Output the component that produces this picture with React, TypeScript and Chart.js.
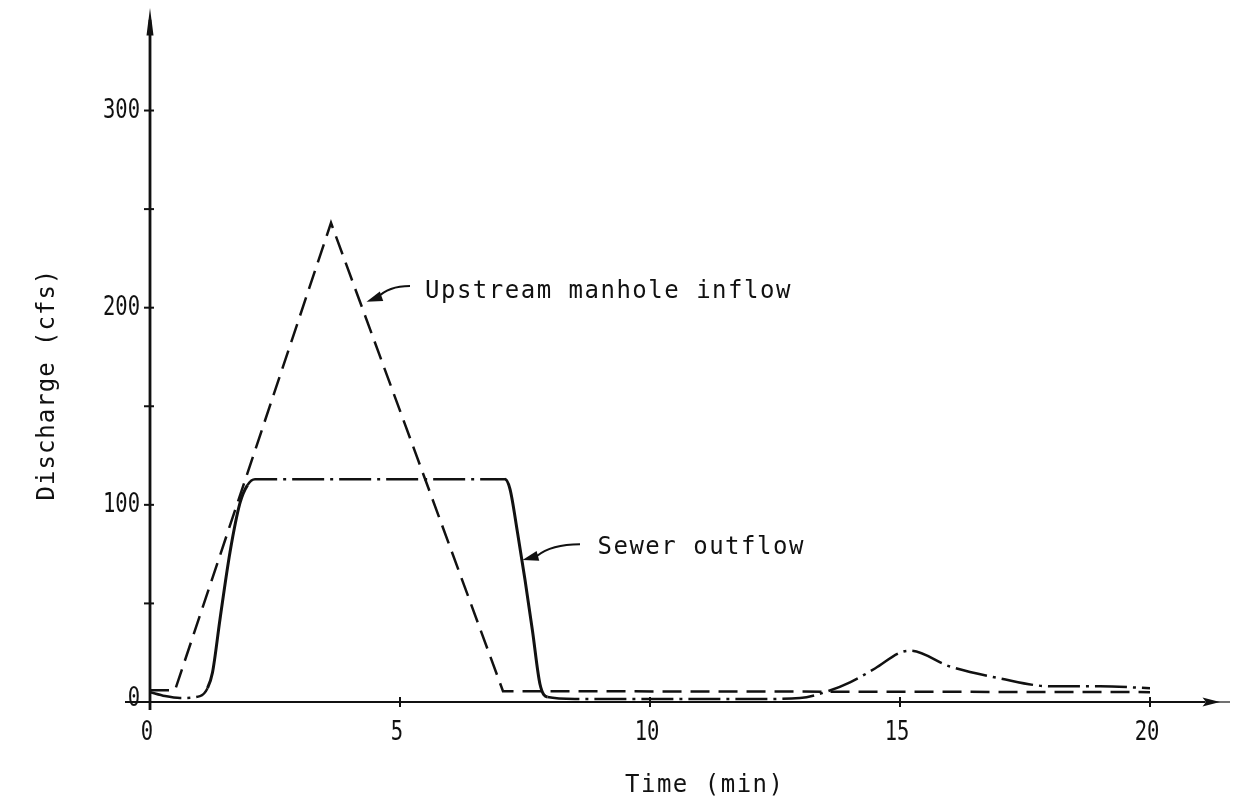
import React, { useEffect, useRef } from "react";
import { Chart, registerables } from "chart.js";

Chart.register(...registerables);

// ---- data ----
const upstreamTime = [0, 0.5, 3.62, 7.06, 20];
const upstreamFlow = [6, 6, 243, 5.5, 5];

const sewerTime = [0, 0.3, 0.6, 1.0, 1.15, 1.25, 1.4, 1.6, 1.8, 1.95, 2.1, 7.1, 7.2, 7.35, 7.5, 7.65, 7.8, 7.95, 8.5, 10, 12, 13, 13.5, 14, 14.5, 15, 15.2, 16, 17, 18, 19, 20];
const sewerFlow = [5, 3, 2, 3, 7, 15, 42, 76, 101, 110, 113, 113, 108, 86, 62, 36, 9, 2.5, 1.5, 1.5, 1.5, 2, 5, 10, 17, 25, 26, 18, 12, 8, 8, 7];

const xTickValues = [0, 5, 10, 15, 20];
const xTickLabels = ["0", "5", "10", "15", "20"];
const yTickValues = [0, 50, 100, 150, 200, 250, 300];
const yTickLabels = ["0", "", "100", "", "200", "", "300"];

const xTitle = "Time (min)";
const yTitle = "Discharge (cfs)";
const upstreamLabel = "Upstream manhole inflow";
const sewerLabel = "Sewer outflow";

// annotation anchors in data units: [textX, textY, arrowTailX, arrowTailY, arrowTipX, arrowTipY]
const upstreamNote = [5.5, 208, 5.2, 211, 4.33, 203];
const sewerNote = [8.95, 78, 8.6, 80, 7.45, 72];

const FONT = "'DejaVu Sans Mono', 'Liberation Mono', monospace";
const INK = "#111";

const axesPlugin = {
  id: "paperAxes",
  afterDraw(chart: any) {
    const { ctx, scales } = chart;
    const xs = scales.x;
    const ys = scales.y;
    const X = (v: number) => xs.getPixelForValue(v);
    const Y = (v: number) => ys.getPixelForValue(v);
    ctx.save();
    ctx.strokeStyle = INK;
    ctx.fillStyle = INK;
    ctx.lineWidth = 2.8;
    ctx.lineCap = "butt";
    // y axis
    ctx.beginPath();
    ctx.moveTo(X(0), Y(-4));
    ctx.lineTo(X(0), Y(346));
    ctx.stroke();
    ctx.beginPath();
    ctx.moveTo(X(0), Y(352));
    ctx.lineTo(X(0) - 3.5, Y(338));
    ctx.lineTo(X(0) + 3.5, Y(338));
    ctx.closePath();
    ctx.fill();
    // x axis
    ctx.lineWidth = 2;
    ctx.beginPath();
    ctx.moveTo(X(-0.5), Y(0));
    ctx.lineTo(X(21.1), Y(0));
    ctx.stroke();
    ctx.lineWidth = 1.2;
    ctx.beginPath();
    ctx.moveTo(X(21.1), Y(0));
    ctx.lineTo(X(21.6), Y(0));
    ctx.stroke();
    ctx.beginPath();
    ctx.moveTo(X(21.4), Y(0));
    ctx.lineTo(X(21.05), Y(0) - 4.5);
    ctx.lineTo(X(21.12), Y(0));
    ctx.lineTo(X(21.05), Y(0) + 4.5);
    ctx.closePath();
    ctx.fill();
    // ticks
    ctx.lineWidth = 2;
    xTickValues.forEach((v) => {
      if (v === 0) return;
      ctx.beginPath();
      ctx.moveTo(X(v), Y(0) - 5);
      ctx.lineTo(X(v), Y(0) + 5);
      ctx.stroke();
    });
    yTickValues.forEach((v) => {
      ctx.beginPath();
      ctx.moveTo(X(0) - 6, Y(v));
      ctx.lineTo(X(0) + 4, Y(v));
      ctx.stroke();
    });
    // tick labels (narrow typewriter digits)
    const narrow = (txt: string, x: number, y: number, align: CanvasTextAlign) => {
      ctx.save();
      ctx.translate(x, y);
      ctx.scale(0.76, 1);
      ctx.font = `27px ${FONT}`;
      ctx.textBaseline = "middle";
      ctx.textAlign = align;
      ctx.fillText(txt, 0, 0);
      ctx.restore();
    };
    xTickValues.forEach((v, i) => narrow(xTickLabels[i], X(v) - 3, Y(0) + 31, "center"));
    yTickValues.forEach((v, i) => {
      if (yTickLabels[i]) narrow(yTickLabels[i], X(0) - 10, Y(v) - (v === 0 ? 3 : 0), "right");
    });
    // titles
    ctx.font = `24px ${FONT}`;
    ctx.textBaseline = "middle";
    (ctx as any).letterSpacing = "1.5px";
    ctx.textAlign = "left";
    ctx.fillText(xTitle, X(9.5), Y(0) + 84);
    (ctx as any).letterSpacing = "1px";
    ctx.save();
    ctx.translate(X(0) - 102, Y(161));
    ctx.rotate(-Math.PI / 2);
    ctx.textAlign = "center";
    ctx.fillText(yTitle, 0, 0);
    ctx.restore();
    // annotations
    const note = (txt: string, a: number[]) => {
      ctx.font = `24px ${FONT}`;
      (ctx as any).letterSpacing = "1.5px";
      ctx.textAlign = "left";
      ctx.textBaseline = "middle";
      ctx.fillText(txt, X(a[0]), Y(a[1]));
      (ctx as any).letterSpacing = "0px";
      const tx = X(a[2]), ty = Y(a[3]);
      const hx = X(a[4]), hy = Y(a[5]);
      ctx.lineWidth = 2;
      ctx.beginPath();
      ctx.moveTo(tx, ty);
      ctx.quadraticCurveTo((tx + hx) / 2, ty, hx + (tx - hx) * 0.25, hy + (ty - hy) * 0.25);
      ctx.stroke();
      const ang = Math.atan2(hy - ty, hx - tx);
      const L = 16, W = 5;
      ctx.beginPath();
      ctx.moveTo(hx, hy);
      ctx.lineTo(hx - L * Math.cos(ang) + W * Math.sin(ang), hy - L * Math.sin(ang) - W * Math.cos(ang));
      ctx.lineTo(hx - L * Math.cos(ang) - W * Math.sin(ang), hy - L * Math.sin(ang) + W * Math.cos(ang));
      ctx.closePath();
      ctx.fill();
    };
    note(upstreamLabel, upstreamNote);
    note(sewerLabel, sewerNote);
    ctx.restore();
  },
};

export default function App() {
  const ref = useRef<HTMLCanvasElement | null>(null);
  useEffect(() => {
    if (!ref.current) return;
    const steep = (c: any) => {
      const dx = c.p1.parsed.x - c.p0.parsed.x;
      const dy = c.p1.parsed.y - c.p0.parsed.y;
      return Math.abs(dy / dx) > 35;
    };
    const chart = new Chart(ref.current, {
      type: "line",
      data: {
        datasets: [
          {
            label: upstreamLabel,
            data: upstreamTime.map((t, i) => ({ x: t, y: upstreamFlow[i] })),
            borderColor: INK,
            borderWidth: 2.5,
            borderDash: [19, 9],
            pointRadius: 0,
            tension: 0,
            fill: false,
          },
          {
            label: sewerLabel,
            data: sewerTime.map((t, i) => ({ x: t, y: sewerFlow[i] })),
            borderColor: INK,
            borderWidth: 2.5,
            pointRadius: 0,
            cubicInterpolationMode: "monotone",
            fill: false,
            segment: {
              borderDash: (c: any) => (steep(c) ? [] : [32, 6, 3, 6]),
              borderWidth: (c: any) => (steep(c) ? 3 : 2.5),
            },
          } as any,
        ],
      },
      options: {
        animation: false,
        responsive: false,
        maintainAspectRatio: false,
        layout: { padding: { left: 150, right: 8, top: 8, bottom: 108 } },
        plugins: { legend: { display: false }, tooltip: { enabled: false } },
        scales: {
          x: { type: "linear", min: 0, max: 21.5, display: false },
          y: { type: "linear", min: 0, max: 352, display: false },
        },
      },
      plugins: [axesPlugin],
    });
    return () => chart.destroy();
  }, []);
  return (
    <div style={{ position: "absolute", left: 0, top: 0, width: 1233, height: 810, background: "#fff" }}>
      <canvas ref={ref} width={1233} height={810} style={{ width: 1233, height: 810 }} />
    </div>
  );
}
